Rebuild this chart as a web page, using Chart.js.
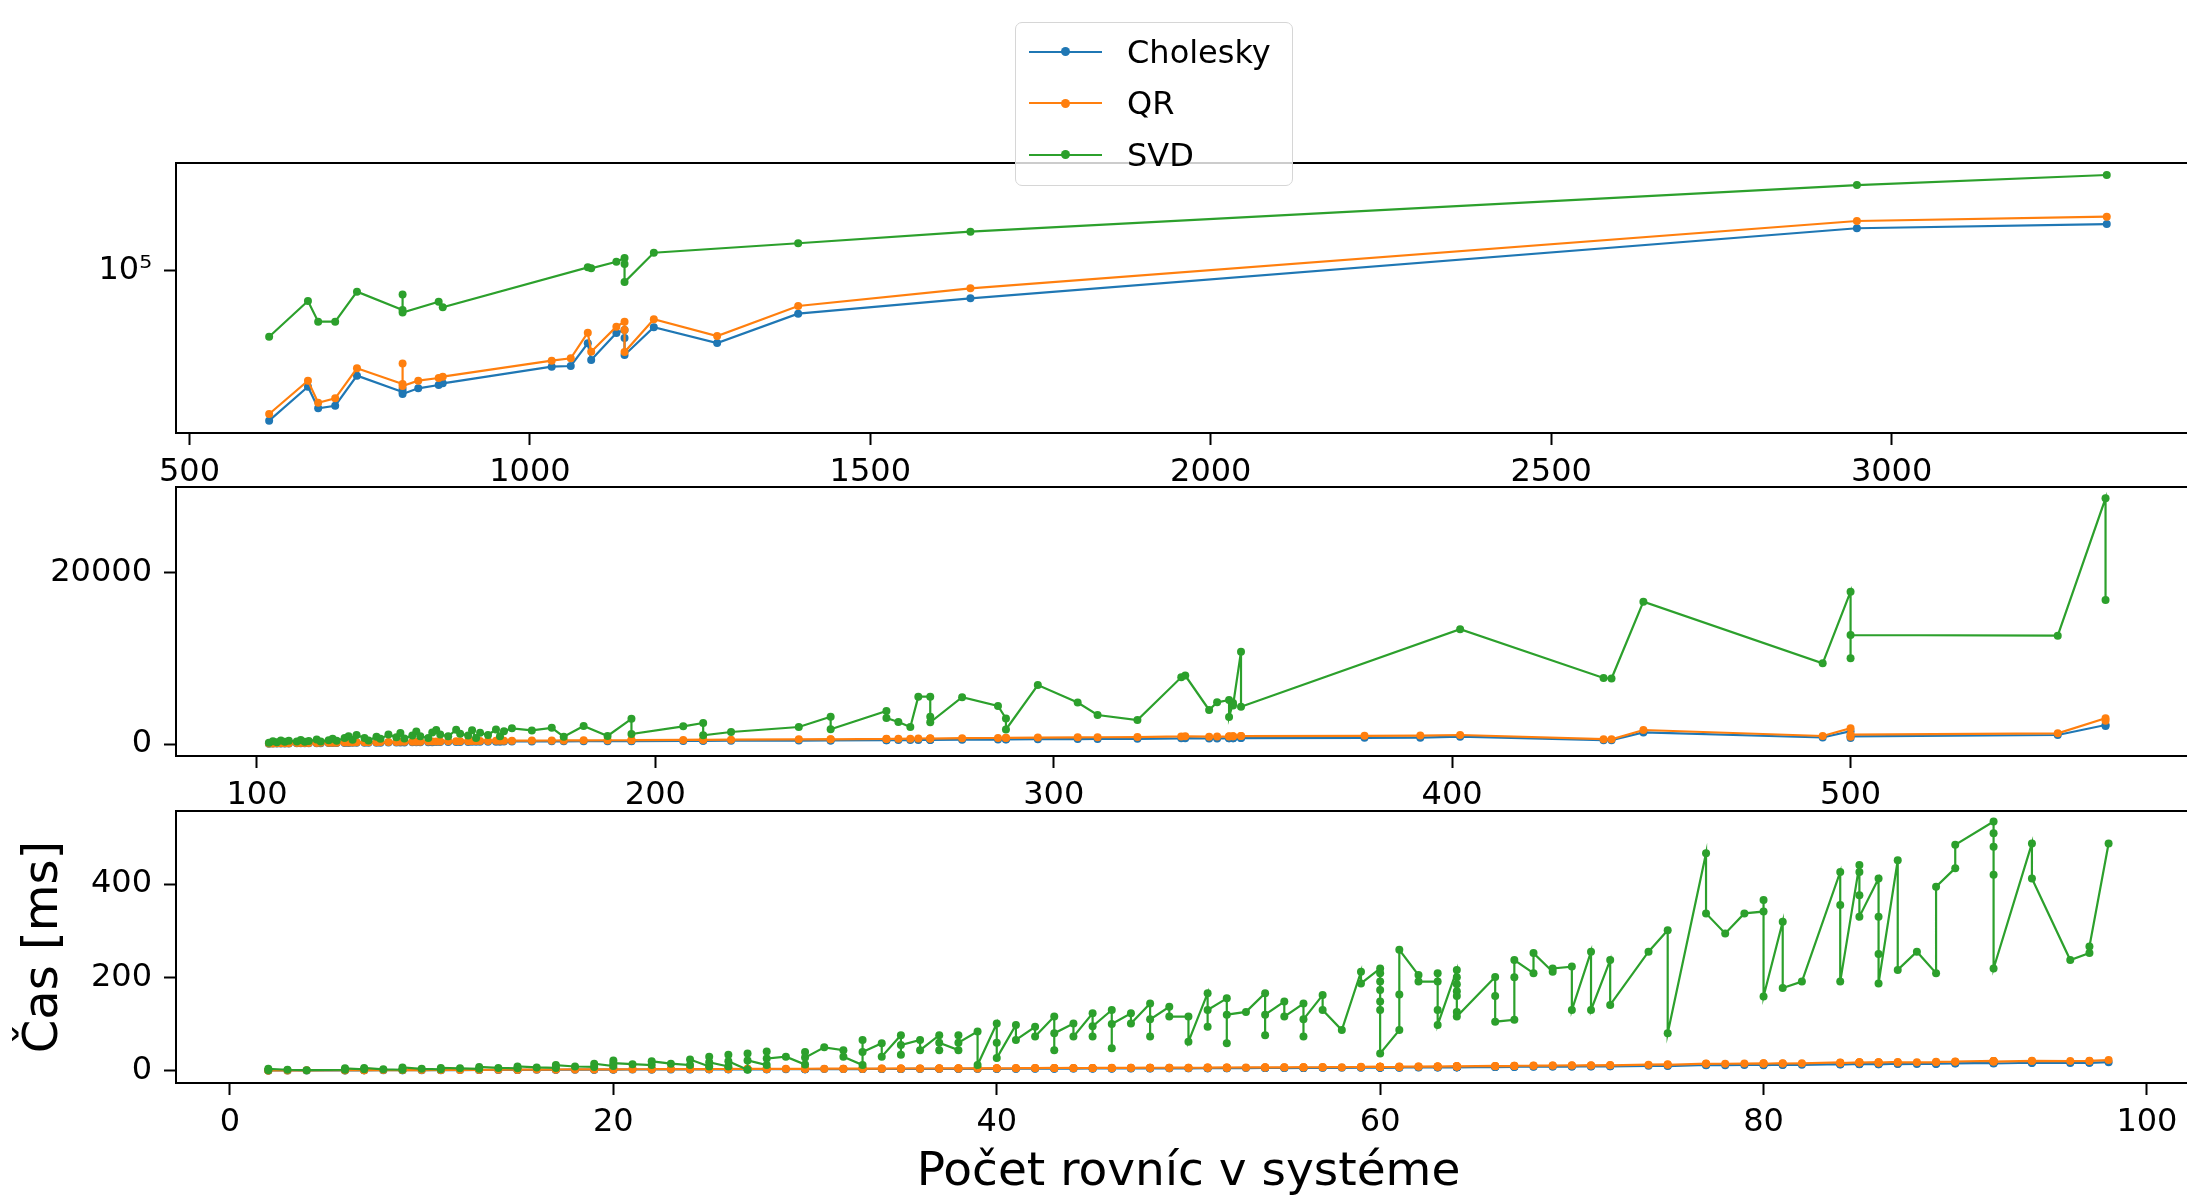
<!DOCTYPE html>
<html><head><meta charset="utf-8">
<script src="https://cdn.jsdelivr.net/npm/chart.js@4.4.1/dist/chart.umd.min.js"></script>
<style>
html,body{margin:0;padding:0;background:#fff;width:2187px;height:1196px;overflow:hidden;}
body{position:relative;font-family:"DejaVu Sans",sans-serif;}
canvas{position:absolute;left:0;}
#legend{position:absolute;left:1015px;top:22px;width:276px;height:162px;border:1px solid #d6d6d6;border-radius:7px;background:rgba(255,255,255,0.8);z-index:10;}
.item{position:absolute;left:0;height:40px;width:100%;}
.handle{position:absolute;left:13px;width:73px;top:19px;height:2px;}
.dot{position:absolute;left:32px;top:-3.5px;width:9px;height:9px;border-radius:50%;}
.lbl{position:absolute;left:111px;top:0;height:40px;line-height:40px;font-size:32px;color:#000;white-space:nowrap;font-family:"DejaVu Sans",sans-serif;}
</style></head>
<body>
<canvas id="c1" width="2205" height="503" style="top:0px;width:2205px;height:503px"></canvas>
<canvas id="c2" width="2205" height="376" style="top:440px;width:2205px;height:376px"></canvas>
<canvas id="c3" width="2205" height="441" style="top:760px;width:2205px;height:441px"></canvas>
<div id="legend"></div>
<script>
// ---------- shared ----------
const seriesNames = ['Cholesky', 'QR', 'SVD'];
const seriesColors = ['#1f77b4', '#ff7f0e', '#2ca02c'];

// ---------- top panel (log scale) ----------
const topN    = [617, 674, 689, 714, 746, 813, 813, 813, 836, 866, 872, 1032, 1060, 1085, 1090, 1127, 1139, 1139, 1139, 1182, 1275, 1394, 1647, 2949, 3316];
const topChol = [19160, 27860, 21960, 22590, 31460, 26280, 27160, 25700, 27370, 28390, 28930, 34730, 35000, 44940, 37390, 50340, 52030, 47640, 39520, 53610, 45090, 62280, 73780, 159600, 167200];
const topQR   = [20620, 29770, 23360, 24520, 34120, 28710, 35970, 28080, 29770, 30670, 31110, 37100, 38100, 50500, 40970, 53970, 57020, 52030, 40830, 58550, 48700, 67780, 82380, 172900, 181300];
const topSVD  = [48330, 71620, 57020, 57020, 79340, 64860, 76930, 63100, null, 71080, 66820, null, null, 103800, 102700, 110400, 115000, 107700, 88300, 121900, null, 135300, 153700, 257000, 287000];
const topXTicks = [500, 1000, 1500, 2000, 2500, 3000];
const topYTicks = [100000];
const topYLabels = ['10\u2075'];

// ---------- middle panel ----------
const midN    = [103,104,105,106,107,108,110,111,112,113,115,116,118,119,120,122,123,124,125,127,128,130,131,133,135,136,137,139,140,141,143,144,145,146,148,150,151,153,154,155,156,158,160,161,162,164,
                 169,174,177,182,188,194,194,207,212,212,219,236,244,244,258,258,261,264,266,269,269,269,277,286,288,288,296,306,311,321,332,333,339,341,344,344,345,345,347,347,378,392,402,438,440,448,493,500,500,500,552,564,564];
const midSVD  = [150,320,200,420,250,380,300,480,260,350,520,300,450,620,380,700,900,500,1050,700,400,850,600,1100,800,1280,650,1000,1450,900,700,1350,1630,1100,900,1650,1200,1000,1600,700,1300,1050,1700,900,1500,1833,
                 1588,1891,852,2102,934,2942,1168,2066,2452,1016,1401,1985,3187,1716,3853,3036,2569,1985,5522,5522,3187,2533,5464,4437,2977,1693,6888,4845,3386,2802,7787,7997,3970,4868,5137,3152,4787,4495,10776,4355,null,null,13403,7705,7647,16614,9422,17781,10005,12726,12644,28685,16812];
const midQR   = [60,70,80,90,95,100,110,115,120,125,130,140,150,155,160,170,180,185,190,200,205,210,220,230,240,250,255,260,270,275,280,290,300,305,310,320,325,330,340,345,350,360,370,375,380,390,
                 400,410,420,430,440,460,450,480,500,490,510,540,560,550,600,590,610,620,640,650,640,630,680,700,720,710,750,780,790,810,880,900,860,870,900,880,910,900,930,920,950,980,1050,560,550,1634,934,1833,852,1100,1250,3000,2700];
const midChol = [40,50,55,60,65,70,75,80,85,90,95,100,105,110,115,120,130,135,140,145,150,155,160,170,175,180,185,190,200,205,210,215,220,225,230,235,240,245,250,255,260,265,270,275,280,290,
                 300,310,315,320,330,340,335,360,370,365,380,400,420,410,450,440,455,460,480,490,485,480,510,520,540,535,560,580,590,600,660,680,640,650,670,660,680,675,700,690,720,740,850,450,440,1350,760,1500,700,900,1050,2218,2100];
const midXTicks = [100, 200, 300, 400, 500];
const midYTicks = [0, 20000];

// ---------- bottom panel ----------
const botN    = [2,2,3,4,6,6,7,7,8,9,9,10,11,11,12,13,13,14,15,15,16,17,17,18,19,19,20,20,20,21,22,22,23,24,24,25,25,25,26,26,26,27,27,27,28,28,28,29,30,30,30,31,32,32,33,33,33,34,34,35,35,35,36,36,37,37,37,38,38,38,39,39,
                 40,40,40,41,41,42,42,43,43,43,44,44,45,45,45,46,46,46,47,47,48,48,48,49,49,50,50,51,51,51,52,52,52,53,54,54,54,55,55,56,56,56,57,57,58,59,59,
                 60,60,60,60,60,60,60,61,61,61,62,62,63,63,63,63,64,64,64,64,64,64,64,66,66,66,67,67,67,68,68,69,69,70,70,71,71,72,72,74,75,75,77,77,78,79,80,80,80,81,81,82,
                 84,84,84,85,85,85,85,86,86,86,86,87,87,88,89,89,90,90,92,92,92,92,92,94,94,96,97,97,98];
const botSVD  = [1,4,2,1,2,5,3,6,3,2,7,4,3,6,5,4,8,6,5,9,7,6,12,9,8,15,10,22,16,14,12,20,15,12,24,9,30,18,9,34,20,2,37,22,12,41,26,30,13,40,28,50,44,30,12,66,40,59,30,76,34,55,66,44,76,44,60,44,76,60,84,12,
                 101,60,27,98,66,94,73,116,44,80,101,73,123,73,95,130,48,100,123,101,144,73,110,137,116,116,62,166,94,130,155,59,120,126,166,76,120,148,116,144,73,110,162,130,87,212,187,
                 219,209,191,173,148,130,37,87,163,259,205,191,191,209,130,98,216,200,185,170,160,126,116,201,160,105,109,200,237,209,252,212,219,223,130,255,130,237,141,255,301,80,466,337,294,337,341,366,159,319,177,191,
                 426,355,191,441,426,376,330,412,330,250,187,451,216,255,209,394,434,484,534,509,480,420,219,487,412,237,252,266,487];
const botQR   = [0.5,0.6,0.6,0.7,0.9,1.0,1.0,1.1,1.2,1.2,1.3,1.4,1.5,1.6,1.7,1.8,1.9,2.0,2.1,2.2,2.3,2.4,2.5,2.6,2.7,2.8,2.9,3.0,3.0,3.1,3.2,3.3,3.4,3.4,3.5,3.5,3.7,3.6,3.6,3.8,3.7,3.6,3.9,3.8,3.8,4.0,3.9,4.0,4.0,4.2,4.1,4.3,4.4,4.3,4.3,4.6,4.5,4.6,4.5,4.8,4.6,4.7,4.8,4.7,5.0,4.8,4.9,4.9,5.1,5.0,5.2,4.9,
                 5.4,5.2,5.1,5.5,5.3,5.6,5.5,5.8,5.5,5.7,5.8,5.7,6.0,5.8,5.9,6.1,5.8,6.0,6.2,6.1,6.4,6.1,6.3,6.5,6.4,6.5,6.3,6.8,6.5,6.7,6.9,6.5,6.8,7.0,7.2,6.9,7.1,7.3,7.2,7.5,7.2,7.4,7.7,7.6,7.6,8.2,8.1,
                 8.6,8.5,8.5,8.4,8.3,8.2,7.8,8.1,8.5,9.0,8.9,8.8,9.1,9.2,8.9,8.7,9.6,9.5,9.5,9.4,9.3,9.2,9.1,10.1,9.9,9.7,9.9,10.4,10.6,10.7,10.9,11.0,11.1,11.4,10.9,11.9,11.2,12.1,11.6,12.9,13.6,12.5,15.3,14.7,14.8,15.3,15.8,16.0,14.9,16.1,15.4,15.8,
                 17.6,17.2,16.4,18.0,17.9,17.6,17.4,18.2,17.8,17.4,17.1,18.8,17.6,18.0,18.0,18.9,19.4,19.7,20.8,20.6,20.5,20.2,19.2,21.2,20.8,20.6,21.0,21.1,22.8];
const botChol = [0.3,0.4,0.4,0.5,0.6,0.7,0.7,0.8,0.9,0.9,1.0,1.1,1.1,1.2,1.3,1.4,1.5,1.6,1.6,1.7,1.8,1.9,2.0,2.1,2.1,2.2,2.3,2.4,2.4,2.5,2.5,2.6,2.7,2.7,2.8,2.8,2.9,2.8,2.9,3.0,2.9,2.9,3.1,3.0,3.0,3.2,3.1,3.2,3.2,3.3,3.3,3.4,3.5,3.4,3.4,3.7,3.6,3.7,3.6,3.8,3.7,3.8,3.9,3.8,4.0,3.9,3.9,3.9,4.1,4.0,4.2,3.9,
                 4.3,4.2,4.1,4.4,4.3,4.5,4.4,4.6,4.4,4.5,4.7,4.6,4.8,4.6,4.7,4.9,4.7,4.8,5.0,4.9,5.1,4.9,5.0,5.2,5.1,5.2,5.0,5.4,5.2,5.3,5.5,5.2,5.4,5.6,5.8,5.5,5.7,5.8,5.7,6.0,5.8,5.9,6.2,6.1,6.1,6.6,6.5,
                 6.9,6.8,6.8,6.7,6.6,6.6,6.2,6.5,6.8,7.2,7.1,7.0,7.3,7.4,7.1,7.0,7.7,7.6,7.6,7.5,7.4,7.4,7.3,8.1,7.9,7.8,7.9,8.3,8.5,8.6,8.7,8.8,8.9,9.1,8.7,9.5,9.0,9.7,9.3,10.3,10.9,10.0,12.2,11.8,11.8,12.2,12.6,12.8,11.9,12.9,12.3,12.6,
                 14.1,13.8,13.1,14.4,14.3,14.1,13.9,14.6,14.2,13.9,13.7,15.0,14.1,14.4,14.4,15.1,15.5,15.8,16.6,16.5,16.4,16.2,15.4,17.0,16.6,16.5,16.8,16.9,18.2];
const botXTicks = [0, 20, 40, 60, 80, 100];
const botYTicks = [0, 200, 400];

// ---------- helpers ----------
const FONT = 'DejaVu Sans';
const framePlugin = {
  id: 'frame',
  afterDatasetsDraw(chart) {
    const {ctx, chartArea: a} = chart;
    ctx.save();
    ctx.strokeStyle = '#000';
    ctx.lineWidth = 2;
    ctx.strokeRect(a.left, a.top, a.right - a.left, a.bottom - a.top);
    ctx.restore();
  }
};

function tickAxis(extra) {
  return Object.assign({
    bounds: 'data',
    grid: {display: true, drawOnChartArea: false, drawTicks: true, tickLength: 12, tickWidth: 2, tickColor: '#000', color: '#000'},
    border: {display: false}
  }, extra);
}

function panel(id, cfg) {
  const datasets = cfg.ys.map((arr, i) => ({
    label: seriesNames[i],
    data: cfg.xs.map((x, j) => ({x: x, y: arr[j]})),
    showLine: true,
    spanGaps: true,
    borderColor: seriesColors[i],
    backgroundColor: seriesColors[i],
    borderWidth: 2.2,
    pointRadius: 4,
    pointHoverRadius: 4,
    pointBorderWidth: 0,
    tension: 0,
    order: 3 - i
  }));
  return new Chart(document.getElementById(id), {
    type: 'scatter',
    data: {datasets},
    options: {
      responsive: false,
      animation: false,
      devicePixelRatio: 1,
      events: [],
      layout: {padding: {top: cfg.padTop, left: 0, right: 3, bottom: 0}},
      plugins: {legend: {display: false}, tooltip: {enabled: false}},
      scales: {
        x: tickAxis({
          type: 'linear', position: 'bottom', min: cfg.xMin, max: cfg.xMax,
          afterBuildTicks: s => { s.ticks = cfg.xTicks.map(v => ({value: v})); },
          afterFit: s => { s.height = cfg.xAxisH; },
          ticks: {callback: v => String(v), font: {family: FONT, size: 32}, color: '#000', padding: 8, maxRotation: 0, autoSkip: false},
          title: cfg.xTitle ? {display: true, text: cfg.xTitle, color: '#000', font: {family: FONT, size: 47, lineHeight: 1.2}, padding: {top: 0, bottom: 0}} : {display: false}
        }),
        y: tickAxis({
          type: cfg.yType, position: 'left', min: cfg.yMin, max: cfg.yMax,
          afterBuildTicks: s => { s.ticks = cfg.yTicks.map(v => ({value: v})); },
          afterFit: s => { s.width = 176; },
          ticks: {callback: cfg.yFmt, font: {family: FONT, size: 32}, color: '#000', padding: 12, autoSkip: false},
          title: cfg.yTitle ? {display: true, text: cfg.yTitle, color: '#000', font: {family: FONT, size: 48, lineHeight: 1.2}, padding: {top: 16, bottom: 0}} : {display: false}
        })
      }
    },
    plugins: [framePlugin]
  });
}

panel('c1', {
  padTop: 163, xAxisH: 70,
  xs: topN, ys: [topChol, topQR, topSVD],
  xMin: 480.2, xMax: 3454.4, yMin: 16730, yMax: 327600, yType: 'logarithmic',
  xTicks: topXTicks, yTicks: topYTicks,
  yFmt: (v, i) => topYLabels[i]
});
panel('c2', {
  padTop: 47, xAxisH: 60,
  xs: midN, ys: [midChol, midQR, midSVD],
  xMin: 79.68, xMax: 587.96, yMin: -1401, yMax: 30005, yType: 'linear',
  xTicks: midXTicks, yTicks: midYTicks,
  yFmt: v => String(v)
});
panel('c3', {
  padTop: 51, xAxisH: 118,
  xs: botN, ys: [botChol, botQR, botSVD],
  xMin: -2.815, xMax: 102.82, yMin: -26.4, yMax: 556.5, yType: 'linear',
  xTicks: botXTicks, yTicks: botYTicks,
  yFmt: v => String(v),
  xTitle: 'Počet rovníc v systéme', yTitle: 'Čas [ms]'
});

// ---------- legend ----------
const legend = document.getElementById('legend');
const itemTops = [8.6, 60.2, 111.8];
seriesNames.forEach((name, i) => {
  const item = document.createElement('div');
  item.className = 'item';
  item.style.top = itemTops[i] + 'px';
  item.innerHTML = '<div class="handle" style="background:' + seriesColors[i] + '"><div class="dot" style="background:' + seriesColors[i] + '"></div></div><div class="lbl">' + name + '</div>';
  legend.appendChild(item);
});
</script>
</body></html>
